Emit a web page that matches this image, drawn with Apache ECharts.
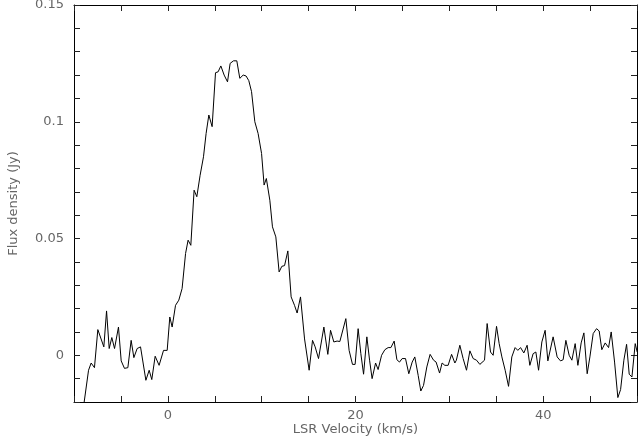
<!DOCTYPE html>
<html>
<head>
<meta charset="utf-8">
<script src="https://cdn.jsdelivr.net/npm/echarts@6/dist/echarts.min.js"></script>
<style>
  html, body { margin: 0; padding: 0; background: #fff; }
  #chart { width: 638px; height: 437px; }
</style>
</head>
<body>
<div id="chart"></div>
<script>
// spectrum: LSR velocity (km/s) and flux density (Jy)
const velocity = [
  -8.95, -8.45, -8.17, -7.82, -7.46, -6.82, -6.53, -6.25, -5.97, -5.68,
  -5.26, -4.97, -4.62, -4.26, -3.91, -3.62, -3.27, -2.91, -2.34, -1.99,
  -1.71, -1.35, -0.93, -0.46, -0.07, 0.21, 0.46, 0.82, 1.17, 1.52,
  1.89, 2.16, 2.45, 2.80, 3.09, 3.44, 3.80, 4.08, 4.37, 4.72,
  5.08, 5.36, 5.65, 6.00, 6.36, 6.64, 7.00, 7.35, 7.67, 8.03,
  8.34, 8.63, 8.92, 9.27, 9.62, 9.99, 10.26, 10.50, 10.87, 11.15,
  11.51, 11.86, 12.15, 12.44, 12.79, 13.14, 13.50, 13.78, 14.14, 14.57,
  15.06, 15.42, 15.70, 16.06, 16.63, 17.05, 17.34, 17.69, 18.04, 18.33,
  18.97, 19.32, 19.68, 19.96, 20.28, 20.57, 20.86, 21.21, 21.50, 21.77,
  22.14, 22.41, 22.78, 23.13, 23.48, 23.77, 24.12, 24.41, 24.69, 24.97,
  25.33, 25.68, 26.04, 26.32, 26.68, 26.96, 27.25, 27.60, 27.95, 28.32,
  28.59, 28.96, 29.23, 29.52, 29.87, 30.24, 30.59, 30.75, 31.12, 31.47,
  31.83, 32.19, 32.54, 32.90, 33.25, 33.46, 33.75, 34.03, 34.39, 34.67,
  35.03, 35.31, 35.60, 35.95, 36.31, 36.66, 37.01, 37.30, 37.59, 37.94,
  38.29, 38.58, 38.93, 39.22, 39.51, 39.86, 40.21, 40.50, 41.06, 41.49,
  41.85, 42.13, 42.42, 42.77, 43.06, 43.41, 43.70, 44.05, 44.34, 44.69,
  44.98, 45.33, 45.69, 45.97, 46.25, 46.61, 46.97, 47.25, 47.61, 47.96,
  48.25, 48.60, 48.89, 49.17, 49.46, 49.81, 50.02
]
const flux = [
  -0.0210, -0.0064, -0.0033, -0.0053, 0.0110, 0.0036, 0.0190, 0.0029, 0.0076, 0.0029,
  0.0121, -0.0024, -0.0056, -0.0053, 0.0064, -0.0010, 0.0029, 0.0036, -0.0107, -0.0064,
  -0.0104, -0.0004, -0.0043, 0.0021, 0.0021, 0.0164, 0.0121, 0.0214, 0.0236, 0.0286,
  0.0436, 0.0493, 0.0471, 0.0707, 0.0679, 0.0771, 0.0850, 0.0950, 0.1029, 0.0979,
  0.1210, 0.1214, 0.1239, 0.1200, 0.1171, 0.1250, 0.1261, 0.1261, 0.1186, 0.1200,
  0.1196, 0.1176, 0.1129, 0.1000, 0.0950, 0.0864, 0.0729, 0.0757, 0.0664, 0.0550,
  0.0507, 0.0357, 0.0381, 0.0384, 0.0447, 0.0250, 0.0214, 0.0181, 0.0250, 0.0070,
  -0.0064, 0.0064, 0.0036, -0.0014, 0.0121, 0.0004, 0.0107, 0.0057, 0.0061, 0.0059,
  0.0157, 0.0021, -0.0039, -0.0039, 0.0114, 0.0007, -0.0081, 0.0079, -0.0021, -0.0100,
  -0.0033, -0.0061, 0.0000, 0.0024, 0.0033, 0.0033, 0.0061, -0.0019, -0.0029, -0.0014,
  -0.0014, -0.0079, -0.0029, -0.0007, -0.0086, -0.0153, -0.0129, -0.0050, 0.0004, -0.0021,
  -0.0029, -0.0076, -0.0033, -0.0043, -0.0043, 0.0004, -0.0033, -0.0021, 0.0043, -0.0014,
  -0.0064, 0.0019, -0.0014, -0.0021, -0.0039, -0.0044, -0.0021, 0.0136, 0.0014, 0.0000,
  0.0124, 0.0050, -0.0007, -0.0064, -0.0133, -0.0007, 0.0033, 0.0021, 0.0033, 0.0010,
  0.0043, -0.0043, 0.0007, 0.0014, -0.0064, 0.0057, 0.0107, -0.0024, 0.0079, -0.0007,
  -0.0024, -0.0019, 0.0064, 0.0000, -0.0021, 0.0050, -0.0043, 0.0053, 0.0096, -0.0079,
  -0.0007, 0.0093, 0.0114, 0.0104, 0.0024, 0.0053, 0.0033, 0.0100, -0.0029, -0.0181,
  -0.0147, -0.0021, 0.0047, -0.0081, -0.0093, 0.0050, 0.0014
]
const xLabelTicks = [0, 20, 40]
const yLabelTicks = [0, 0.05, 0.1, 0.15]

const textStyle = { color: '#666', fontFamily: 'DejaVu Sans', fontSize: 13 }
const tick = { show: true, inside: true, length: 6, lineStyle: { color: '#222' } }
const line = { show: true, onZero: false, lineStyle: { color: '#000', width: 1 } }

const xBase = { type: 'value', min: -10, max: 50, interval: 5, splitLine: { show: false }, axisLine: line, axisTick: tick }
const yBase = { type: 'value', min: -0.02, max: 0.15, interval: 0.01, splitLine: { show: false }, axisLine: line, axisTick: tick }

const option = {
  animation: false,
  grid: { left: 74, right: 1, top: 5, bottom: 35, outerBoundsMode: 'none', containLabel: false },
  xAxis: [
    Object.assign({}, xBase, {
      position: 'bottom',
      name: 'LSR Velocity (km/s)',
      nameLocation: 'middle',
      nameGap: 21,
      nameMoveOverlap: false,
      nameTextStyle: textStyle,
      axisLabel: Object.assign({}, textStyle, {
        margin: 7,
        formatter: v => xLabelTicks.includes(v) ? String(v) : ''
      })
    }),
    Object.assign({}, xBase, { position: 'top', axisLabel: { show: false } })
  ],
  yAxis: [
    Object.assign({}, yBase, {
      position: 'left',
      name: 'Flux density (Jy)',
      nameLocation: 'middle',
      nameGap: 54,
      nameMoveOverlap: false,
      nameTextStyle: textStyle,
      axisLabel: Object.assign({}, textStyle, {
        margin: 10,
        showMaxLabel: true,
        formatter: v => {
          const hit = yLabelTicks.find(t => Math.abs(t - v) < 1e-6)
          return hit === undefined ? '' : String(hit)
        }
      })
    }),
    Object.assign({}, yBase, { position: 'right', axisLabel: { show: false } })
  ],
  series: [
    {
      type: 'line',
      data: velocity.map((v, i) => [v, flux[i]]),
      showSymbol: false,
      clip: true,
      lineStyle: { color: '#000', width: 1 }
    }
  ]
}

const chart = echarts.init(document.getElementById('chart'))
chart.setOption(option)
</script>
</body>
</html>
